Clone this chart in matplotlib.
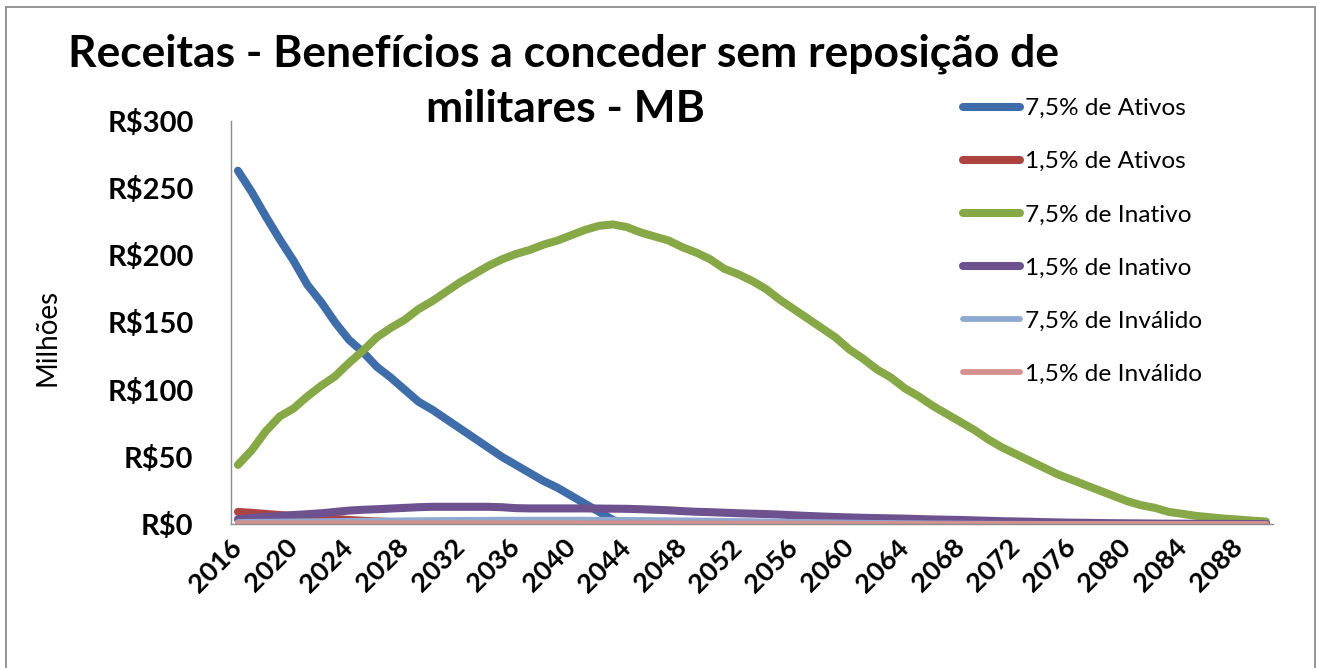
import matplotlib
matplotlib.use("Agg")
import matplotlib.pyplot as plt
from matplotlib.patches import Rectangle

years = list(range(2016, 2091))

ativos_75 = [263, 247, 229, 212, 196, 178, 165, 150, 137, 128,
             117, 109, 100, 91, 85, 78, 71, 64, 57, 50,
             44, 38, 32, 27, 21, 15, 9, 3, 0, 0,
             0, 0, 0, 0, 0, 0, 0, 0, 0, 0,
             0, 0, 0, 0, 0, 0, 0, 0, 0, 0,
             0, 0, 0, 0, 0, 0, 0, 0, 0, 0,
             0, 0, 0, 0, 0, 0, 0, 0, 0, 0,
             0, 0, 0, 0, 0]
ativos_15 = [9.0, 8.3, 7.5, 6.7, 5.9, 5.1, 4.4, 3.7, 3.0, 2.4,
             1.9, 1.5, 1.1, 0.8, 0.5, 0.3, 0.2, 0.1, 0, 0,
             0, 0, 0, 0, 0, 0, 0, 0, 0, 0,
             0, 0, 0, 0, 0, 0, 0, 0, 0, 0,
             0, 0, 0, 0, 0, 0, 0, 0, 0, 0,
             0, 0, 0, 0, 0, 0, 0, 0, 0, 0,
             0, 0, 0, 0, 0, 0, 0, 0, 0, 0,
             0, 0, 0, 0, 0]
inativo_75 = [44, 55, 69, 80, 86, 95, 103, 110, 120, 129,
              139, 146, 152, 160, 166, 173, 180, 186, 192, 197,
              201, 204, 208, 211, 215, 219, 222, 223, 221, 217,
              214, 211, 206, 202, 197, 190, 186, 181, 175, 167,
              160, 153, 146, 139, 130, 123, 115, 109, 101, 95,
              88, 82, 76, 70, 63, 57, 52, 47, 42, 37,
              33, 29, 25, 21, 17, 14, 12, 9, 7.5, 6,
              5, 4, 3.3, 2.5, 1.8]
inativo_15 = [3.5, 4.5, 5.3, 6.0, 6.7, 7.3, 8.0, 9.0, 10.0, 10.6,
              11.0, 11.5, 12.0, 12.5, 12.8, 12.8, 12.8, 12.8, 12.8, 12.5,
              11.8, 11.6, 11.6, 11.6, 11.6, 11.6, 11.5, 11.4, 11.3, 11.0,
              10.6, 10.2, 9.6, 9.1, 8.8, 8.4, 8.0, 7.7, 7.4, 7.0,
              6.5, 6.0, 5.6, 5.2, 4.9, 4.6, 4.4, 4.2, 4.0, 3.7,
              3.4, 3.2, 3.0, 2.7, 2.4, 2.1, 1.9, 1.7, 1.4, 1.2,
              1.0, 0.9, 0.7, 0.6, 0.5, 0.4, 0.3, 0.2, 0.2, 0.1,
              0.1, 0.1, 0.0, 0.0, 0.0]
invalido_75 = [1.5, 1.6, 1.7, 1.8, 1.9, 2.0, 2.1, 2.2, 2.3, 2.4,
               2.5, 2.6, 2.7, 2.8, 2.9, 3.0, 3.0, 3.1, 3.1, 3.2,
               3.2, 3.2, 3.2, 3.2, 3.2, 3.2, 3.1, 3.1, 3.0, 3.0,
               2.9, 2.8, 2.7, 2.6, 2.5, 2.4, 2.2, 2.1, 1.9, 1.8,
               1.6, 1.5, 1.3, 1.2, 1.0, 0.9, 0.8, 0.7, 0.6, 0.5,
               0.4, 0.35, 0.3, 0.25, 0.2, 0.15, 0.1, 0.1, 0.05, 0.05,
               0, 0, 0, 0, 0, 0, 0, 0, 0, 0,
               0, 0, 0, 0, 0]
invalido_15 = [0.6, 0.6, 0.6, 0.6, 0.6, 0.6, 0.6, 0.6, 0.6, 0.6,
               0.6, 0.6, 0.6, 0.6, 0.6, 0.6, 0.6, 0.6, 0.6, 0.6,
               0.6, 0.6, 0.6, 0.6, 0.6, 0.5, 0.5, 0.5, 0.5, 0.5,
               0.5, 0.5, 0.4, 0.4, 0.4, 0.4, 0.3, 0.3, 0.3, 0.3,
               0.2, 0.2, 0.2, 0.2, 0.1, 0.1, 0.1, 0.1, 0.1, 0.1,
               0.05, 0.05, 0.05, 0.05, 0, 0, 0, 0, 0, 0,
               0, 0, 0, 0, 0, 0, 0, 0, 0, 0,
               0, 0, 0, 0, 0]

series_labels = ["7,5% de Ativos", "1,5% de Ativos", "7,5% de Inativo",
                 "1,5% de Inativo", "7,5% de Inválido", "1,5% de Inválido"]
series_values = [ativos_75, ativos_15, inativo_75, inativo_15, invalido_75, invalido_15]
series_colors = ["#3F6DA9", "#AC4542", "#86A846", "#6E5290", "#8FA9D1", "#D3918F"]
series_widths = [5.8, 5.8, 5.8, 5.8, 4.2, 4.2]

yticks = [0, 50, 100, 150, 200, 250, 300]
ytick_labels = ["R$0", "R$50", "R$100", "R$150", "R$200", "R$250", "R$300"]
xtick_years = years[::4]

title_1 = "Receitas - Benefícios a conceder sem reposição de"
title_2 = "militares - MB"
ylabel = "Milhões"

FONT = "Lato"
W, H = 1318, 668
fig = plt.figure(figsize=(W / 100, H / 100), dpi=100)
fig.patch.set_facecolor("white")

# outer frame
fig.add_artist(Rectangle((6 / W, -0.05), (1315 - 6) / W, 1.05 - 7 / H,
                         transform=fig.transFigure, fill=False,
                         edgecolor="#8C8C8C", linewidth=1.3))

ax = fig.add_axes([231 / W, 1 - 524 / H, (1273 - 231) / W, (524 - 121) / H])
for yv, lab, col, lw in zip(series_values, series_labels, series_colors, series_widths):
    ax.plot(years, yv, color=col, linewidth=lw, label=lab,
            solid_capstyle="round", solid_joinstyle="round")

ax.set_xlim(2015.5, 2090.5)
ax.set_ylim(0, 300)
for s in ["top", "right"]:
    ax.spines[s].set_visible(False)
for s in ["left", "bottom"]:
    ax.spines[s].set_color("#8C8C8C")
    ax.spines[s].set_linewidth(1.0)

ax.set_yticks(yticks)
ax.set_yticklabels(ytick_labels, fontfamily=FONT, fontweight="bold", fontsize=21)
ax.set_xticks(xtick_years)
ax.set_xticklabels([str(y) for y in xtick_years], fontfamily=FONT, fontweight="bold",
                   fontsize=19.5, rotation=45, ha="right", va="center",
                   rotation_mode="anchor")
ax.tick_params(axis="y", length=0, pad=27)
ax.tick_params(axis="x", length=0, pad=14)

fig.text(47 / W, 1 - 337 / H, ylabel, rotation=90, ha="center", va="center",
         fontfamily=FONT, fontsize=20)

t1 = fig.text(563 / W, 1 - 66 / H, title_1, ha="center", va="baseline",
              fontfamily=FONT, fontweight="bold", fontsize=30)
t2 = fig.text(565 / W, 1 - 122 / H, title_2, ha="center", va="baseline",
              fontfamily=FONT, fontweight="bold", fontsize=30)

leg = ax.legend(loc="upper left", bbox_to_anchor=(963 / W, 1 - 98 / H),
                bbox_transform=fig.transFigure, frameon=False,
                prop={"family": FONT, "size": 17.6}, handlelength=2.35,
                handletextpad=0.17, labelspacing=1.31, borderpad=0, borderaxespad=0)

# fit title widths to reference measurements
fig.canvas.draw()
r = fig.canvas.get_renderer()
def fit(txt, target):
    w = txt.get_window_extent(r).width
    txt.set_fontsize(txt.get_fontsize() * target / w)
fit(t1, 989)
t2.set_fontsize(t1.get_fontsize())

fig.savefig("out.png", dpi=100, facecolor="white")
